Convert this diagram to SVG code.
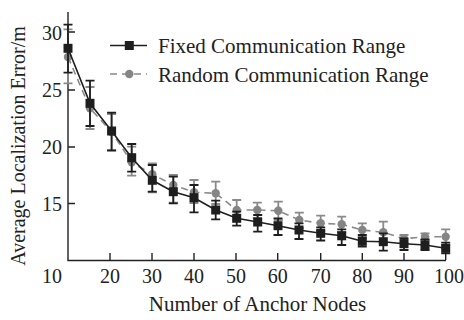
<svg xmlns="http://www.w3.org/2000/svg" width="464" height="320" viewBox="0 0 464 320">
  <style>
    .txt { font-family: "Liberation Serif", "Times New Roman", serif; fill: #222; }
    .tick { font-size: 20px; }
    .title { font-size: 21px; }
    .axis { stroke: #222; stroke-width: 1.4; fill: none; }
    .fixed-line { stroke: #1e1e1e; stroke-width: 1.6; fill: none; }
    .fixed-bar { stroke: #1e1e1e; stroke-width: 1.8; fill: none; }
    .rand-line { stroke: #8a8a8a; stroke-width: 1.6; fill: none; stroke-dasharray: 7 5; }
    .rand-bar { stroke: #8a8a8a; stroke-width: 1.8; fill: none; }
    .sq { fill: #1e1e1e; }
    .dot { fill: #858585; }
  </style>
  <defs>
    <rect id="sq" class="sq" x="-4.5" y="-4.5" width="9" height="9"/>
    <circle id="dot" class="dot" r="4.2"/>
  </defs>

  <!-- axes with inward ticks -->
  <g id="axes">
    <path class="axis" d="M68 12 V260.5 H446"/>
    <path class="axis" d="M68 32 h7 M68 90 h7 M68 147 h7 M68 203.5 h7
                          M110 260 v-7 M152 260 v-7 M194 260 v-7 M236 260 v-7 M277.7 260 v-7
                          M320.7 260 v-7 M362.3 260 v-7 M404 260 v-7 M445.7 260 v-7"/>
  </g>

  <g id="y-ticks" class="txt tick" text-anchor="end">
    <text x="62" y="40">30</text>
    <text x="62" y="97">25</text>
    <text x="62" y="154">20</text>
    <text x="62" y="211">15</text>
  </g>
  <g id="x-ticks" class="txt tick" text-anchor="middle">
    <text x="52" y="283">10</text>
    <text x="110" y="283">20</text>
    <text x="152" y="283">30</text>
    <text x="194" y="283">40</text>
    <text x="236" y="283">50</text>
    <text x="277.7" y="283">60</text>
    <text x="320.7" y="283">70</text>
    <text x="362.3" y="283">80</text>
    <text x="404" y="283">90</text>
    <text x="449" y="283">100</text>
  </g>

  <text id="x-title" class="txt title" x="257.5" y="311" text-anchor="middle">Number of Anchor Nodes</text>
  <text id="y-title" class="txt" font-size="20" x="0" y="0" text-anchor="middle" transform="translate(25 146) rotate(-90)">Average Localization Error/m</text>

  <!-- random communication range series -->
  <g id="series-random">
    <path class="rand-bar" d="
      M68 29.3 V83.3 M63.5 29.3 h9 M63.5 83.3 h9
      M90 87 V129 M85.5 87 h9 M85.5 129 h9
      M111.6 114 V150 M107.1 114 h9 M107.1 150 h9
      M131.7 146.7 V175.7 M127.2 146.7 h9 M127.2 175.7 h9
      M152.3 163.3 V192.3 M147.8 163.3 h9 M147.8 192.3 h9
      M173.3 175 V202.7 M168.8 175 h9 M168.8 202.7 h9
      M194 180 V203 M189.5 180 h9 M189.5 203 h9
      M215.7 181.7 V204 M211.2 181.7 h9 M211.2 204 h9
      M236.7 200 V220 M232.2 200 h9 M232.2 220 h9
      M257.3 202.7 V218 M252.8 202.7 h9 M252.8 218 h9
      M278.3 201.7 V220 M273.8 201.7 h9 M273.8 220 h9
      M299.3 212.7 V228 M294.8 212.7 h9 M294.8 228 h9
      M320.7 215.7 V231 M316.2 215.7 h9 M316.2 231 h9
      M341.7 216.7 V232 M337.2 216.7 h9 M337.2 232 h9
      M362.3 223.3 V236.7 M357.8 223.3 h9 M357.8 236.7 h9
      M383.3 221.7 V243 M378.8 221.7 h9 M378.8 243 h9
      M404 235 V243 M399.5 235 h9 M399.5 243 h9
      M425 233.3 V240 M420.5 233.3 h9 M420.5 240 h9
      M445.7 229.3 V245 M441.2 229.3 h9 M441.2 245 h9"/>
    <polyline class="rand-line" points="68,57 90,108.3 111.6,132 131.7,162.3 152.3,174.3 173.3,185 194,192.3 215.7,193.3 236.7,210 257.3,210 278.3,210.7 299.3,220 320.7,223.3 341.7,224.3 362.3,230 383.3,232.3 404,238.7 425,236.7 445.7,236.7"/>
    <use href="#dot" x="68" y="57"/>
    <use href="#dot" x="90" y="108.3"/>
    <use href="#dot" x="111.6" y="132"/>
    <use href="#dot" x="131.7" y="162.3"/>
    <use href="#dot" x="152.3" y="174.3"/>
    <use href="#dot" x="173.3" y="185"/>
    <use href="#dot" x="194" y="192.3"/>
    <use href="#dot" x="215.7" y="193.3"/>
    <use href="#dot" x="236.7" y="210"/>
    <use href="#dot" x="257.3" y="210"/>
    <use href="#dot" x="278.3" y="210.7"/>
    <use href="#dot" x="299.3" y="220"/>
    <use href="#dot" x="320.7" y="223.3"/>
    <use href="#dot" x="341.7" y="224.3"/>
    <use href="#dot" x="362.3" y="230"/>
    <use href="#dot" x="383.3" y="232.3"/>
    <use href="#dot" x="404" y="238.7"/>
    <use href="#dot" x="425" y="236.7"/>
    <use href="#dot" x="445.7" y="236.7"/>
  </g>

  <!-- fixed communication range series -->
  <g id="series-fixed">
    <path class="fixed-bar" d="
      M68 24.6 V72.6 M63.5 24.6 h9 M63.5 72.6 h9
      M90 80.7 V126 M85.5 80.7 h9 M85.5 126 h9
      M111.6 112.7 V150.7 M107.1 112.7 h9 M107.1 150.7 h9
      M131.7 144 V171.7 M127.2 144 h9 M127.2 171.7 h9
      M152.3 165 V191.7 M147.8 165 h9 M147.8 191.7 h9
      M173.3 176.7 V203.3 M168.8 176.7 h9 M168.8 203.3 h9
      M194 185 V212.3 M189.5 185 h9 M189.5 212.3 h9
      M215.7 200.7 V219.3 M211.2 200.7 h9 M211.2 219.3 h9
      M236.7 211.7 V225.7 M232.2 211.7 h9 M232.2 225.7 h9
      M257.7 215 V231.7 M253.2 215 h9 M253.2 231.7 h9
      M278 218.3 V235 M273.5 218.3 h9 M273.5 235 h9
      M299 223.3 V239 M294.5 223.3 h9 M294.5 239 h9
      M320.7 227.3 V240.5 M316.2 227.3 h9 M316.2 240.5 h9
      M341.7 229.3 V245 M337.2 229.3 h9 M337.2 245 h9
      M362.3 235 V246.7 M357.8 235 h9 M357.8 246.7 h9
      M383.3 233.3 V250.7 M378.8 233.3 h9 M378.8 250.7 h9
      M404 238.3 V250 M399.5 238.3 h9 M399.5 250 h9
      M425 239.3 V250 M420.5 239.3 h9 M420.5 250 h9
      M445.7 242.7 V253.3 M441.2 242.7 h9 M441.2 253.3 h9"/>
    <polyline class="fixed-line" points="68,48.3 90,103.3 111.6,131 131.7,157.7 152.3,180.3 173.3,191.7 194,197.7 215.7,210 236.7,218.3 257.7,222 278,225.7 299,230 320.7,233.3 341.7,235.8 362.3,241.3 383.3,241.7 404,243.7 425,245 445.7,248.3"/>
    <use href="#sq" x="68" y="48.3"/>
    <use href="#sq" x="90" y="103.3"/>
    <use href="#sq" x="111.6" y="131"/>
    <use href="#sq" x="131.7" y="157.7"/>
    <use href="#sq" x="152.3" y="180.3"/>
    <use href="#sq" x="173.3" y="191.7"/>
    <use href="#sq" x="194" y="197.7"/>
    <use href="#sq" x="215.7" y="210"/>
    <use href="#sq" x="236.7" y="218.3"/>
    <use href="#sq" x="257.7" y="222"/>
    <use href="#sq" x="278" y="225.7"/>
    <use href="#sq" x="299" y="230"/>
    <use href="#sq" x="320.7" y="233.3"/>
    <use href="#sq" x="341.7" y="235.8"/>
    <use href="#sq" x="362.3" y="241.3"/>
    <use href="#sq" x="383.3" y="241.7"/>
    <use href="#sq" x="404" y="243.7"/>
    <use href="#sq" x="425" y="245"/>
    <use href="#sq" x="445.7" y="248.3"/>
  </g>

  <!-- legend -->
  <g id="legend">
    <path class="fixed-line" d="M110 45.5 H147"/>
    <use href="#sq" x="129.3" y="45.5"/>
    <text class="txt title" x="158" y="53">Fixed Communication Range</text>
    <path class="rand-line" d="M110 74 H147" stroke-dasharray="6 5"/>
    <use href="#dot" x="129.3" y="74"/>
    <text class="txt title" x="158" y="82">Random Communication Range</text>
  </g>
</svg>
